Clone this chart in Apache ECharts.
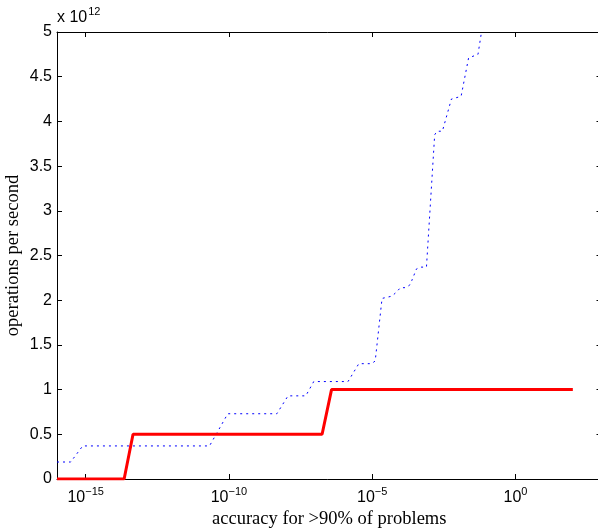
<!DOCTYPE html>
<html><head><meta charset="utf-8">
<script src="https://cdn.jsdelivr.net/npm/echarts@6/dist/echarts.min.js"></script>
<style>html,body{margin:0;padding:0;background:#fff}#c{width:598px;height:528px}</style>
</head><body><div id="c"></div>
<script>
// Red solid line (accuracy, operations/second in units of 1e12)
const redX = [1e-16, 2.2e-14, 4.5e-14, 1.78e-7, 3.8e-7, 100];
const redY = [0, 0, 0.5, 0.5, 1, 1];
// Blue dotted line
const blueX = [1.0e-16, 3.0e-16, 7.9e-16, 2.1e-11, 9.1e-11, 4.7e-9, 1.15e-8, 4.8e-8, 9.1e-8, 1.43e-6,
  3.4e-6, 9.5e-6, 1.27e-5, 2.2e-5, 4.8e-5, 7.0e-5, 9.6e-5, 1.48e-4, 2.04e-4, 2.4e-4,
  3.5e-4, 4.8e-4, 7.8e-4, 1.51e-3, 1.82e-3, 2.8e-3, 5.8e-3, 1.26e-2, 2.3e-2, 4.9e-2, 6.5e-2];
const blueY = [0.19, 0.19, 0.37, 0.37, 0.73, 0.73, 0.93, 0.93, 1.09, 1.09,
  1.29, 1.29, 1.32, 2.02, 2.045, 2.09, 2.14, 2.14, 2.17, 2.22,
  2.35, 2.37, 2.37, 3.85, 3.89, 3.89, 4.25, 4.28, 4.71, 4.75, 5.0];
const xTickValues = [1e-15, 1e-10, 1e-5, 1];
const xMin = 1e-16, xMax = 1e3;
const yMin = 0, yMax = 5, yStep = 0.5;
const yExponent = 12;
const xTitle = 'accuracy for >90% of problems';
const yTitle = 'operations per second';

const zip = (a, b) => a.map((v, i) => [v, b[i]]);
const sans = 'Liberation Sans';
const serif = 'Liberation Serif';
const supFmt = v => {
  const e = Math.round(Math.log10(v));
  return '{b|10}{s|' + (e < 0 ? '\u2212' + (-e) : e) + '}';
};
const chart = echarts.init(document.getElementById('c'), null, {renderer: 'canvas'});
const axisLine = {show: true, onZero: false, lineStyle: {color: '#000', width: 1}};
const tick = {show: true, inside: true, length: 5, lineStyle: {color: '#000', width: 1}};
chart.setOption({
  animation: false,
  backgroundColor: '#fff',
  grid: {left: 57, right: -3.5, top: 32, bottom: 49, containLabel: false, outerBoundsMode: 'none'},
  graphic: [{
    type: 'text', left: 57, top: 6,
    style: {
      text: '{a|x 10}{e|' + yExponent + '}',
      rich: {
        a: {fontSize: 16, fontFamily: sans, fill: '#000', verticalAlign: 'bottom'},
        e: {fontSize: 11, fontFamily: sans, fill: '#000', verticalAlign: 'bottom', padding: [0, 0, 9, 1]}
      }
    }
  }],
  xAxis: [{
    type: 'log', logBase: 10, min: xMin, max: xMax,
    position: 'bottom',
    axisLine: axisLine,
    axisTick: Object.assign({customValues: xTickValues}, tick),
    splitLine: {show: false},
    axisLabel: {
      customValues: xTickValues, margin: 7, color: '#000',
      formatter: supFmt,
      rich: {
        b: {fontSize: 16, fontFamily: sans, color: '#000', verticalAlign: 'bottom'},
        s: {fontSize: 11, fontFamily: sans, color: '#000', verticalAlign: 'bottom', padding: [0, 0, 9, 0]}
      }
    },
    name: xTitle, nameLocation: 'middle', nameGap: 31, nameMoveOverlap: false,
    nameTextStyle: {fontFamily: serif, fontSize: 18.5, color: '#000', verticalAlign: 'top'}
  }, {
    type: 'log', logBase: 10, min: xMin, max: xMax,
    position: 'top',
    axisLine: axisLine,
    axisTick: Object.assign({customValues: xTickValues}, tick),
    axisLabel: {show: false, customValues: xTickValues},
    splitLine: {show: false}
  }],
  yAxis: [{
    type: 'value', min: yMin, max: yMax, interval: yStep,
    position: 'left',
    axisLine: axisLine, axisTick: tick, splitLine: {show: false},
    axisLabel: {margin: 5, color: '#000', fontSize: 16, fontFamily: sans},
    name: yTitle, nameLocation: 'middle', nameGap: 34, nameRotate: 90, nameMoveOverlap: false,
    nameTextStyle: {fontFamily: serif, fontSize: 18.5, color: '#000'}
  }, {
    type: 'value', min: yMin, max: yMax, interval: yStep,
    position: 'right',
    axisLine: axisLine, axisTick: tick, splitLine: {show: false},
    axisLabel: {show: false}
  }],
  series: [{
    type: 'line', data: zip(blueX, blueY), symbol: 'none', clip: true,
    lineStyle: {color: '#0000ff', width: 1, type: [2, 4]}
  }, {
    type: 'line', data: zip(redX, redY), symbol: 'none', clip: true,
    lineStyle: {color: '#ff0000', width: 3}
  }]
});
</script></body></html>
